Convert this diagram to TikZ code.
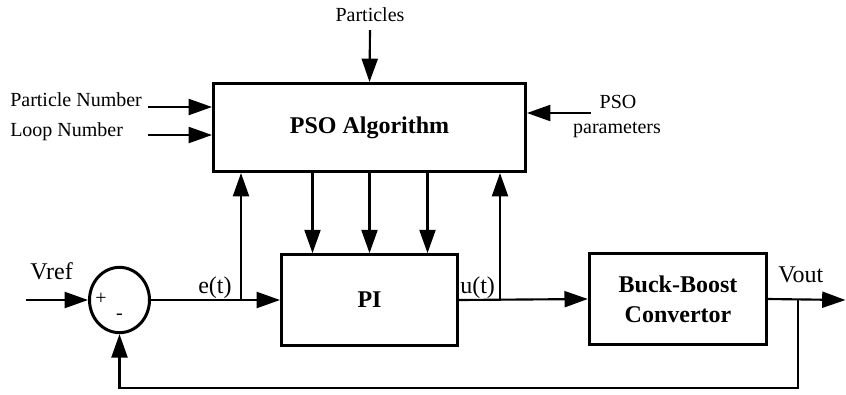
\documentclass[tikz,border=0pt]{standalone}
\usepackage{fontspec}
\setmainfont{Liberation Serif}
\usetikzlibrary{arrows.meta}
\usetikzlibrary{positioning, shapes.geometric}

\tikzset{
  blk/.style={draw,rectangle,line width=2.25pt,font=\fontsize{18}{22.5}\selectfont\bfseries,align=center},
  toplbl/.style={font=\fontsize{15}{17}\selectfont,inner sep=0pt},
  botlbl/.style={font=\fontsize{18}{20}\selectfont,inner sep=0pt},
  wire/.style={line width=1.6pt},
  sig/.style={line width=1.6pt,-{Triangle[length=17.5pt,width=12pt]}},
}

\begin{document}
\begin{tikzpicture}[x=0.75pt,y=-0.75pt]
\useasboundingbox (0,0) rectangle (846,394);

% blocks
\node[blk,minimum width=234pt,minimum height=66pt] (pso) at (369.5,127.5) {PSO Algorithm};
\node[blk,minimum width=132pt,minimum height=68pt] (pi) at (369.5,300) {PI};
\node[blk,minimum width=133pt,minimum height=68pt] (conv) at (678,299) {Buck-Boost\\Convertor};
\node[draw,ellipse,line width=2.25pt,minimum width=45pt,minimum height=49pt,inner sep=0pt] (sum) at (119.5,300) {};
\node[toplbl] (plus) at (101,299) {+};
\node[toplbl] (minus) at (119.5,317) {-};

% inputs of the PSO block
\node[toplbl,anchor=base] (parts) at (370,21.5) {Particles};
\node[toplbl,anchor=base west] (pnum) at (10,106) {Particle Number};
\node[toplbl,anchor=base west] (lnum) at (10,136) {Loop Number};
\node[toplbl,anchor=base] (pso1) at (618,108.5) {PSO};
\node[toplbl,anchor=base] (pso2) at (617,133) {parameters};
\coordinate (pa) at (370,30);
\coordinate (pb) at (148,107);
\coordinate (pc) at (148,135);
\coordinate (pd) at (591,113);
\draw[sig] (pa) -- (pso.north);
\draw[sig] (pb) -- (pb -| pso.west);
\draw[sig] (pc) -- (pc -| pso.west);
\draw[sig] (pd) -- (pd -| pso.east);

% gains passed down to PI
\foreach \dx in {-57,0,58}
  \draw[sig] ([xshift=\dx*0.75pt]pso.south) -- ([xshift=\dx*0.75pt]pi.north);

% main loop
\node[botlbl,anchor=base west] (vref) at (30,279) {Vref};
\node[botlbl,anchor=base west] (et) at (198,293) {e(t)};
\node[botlbl,anchor=base west] (ut) at (460,293) {u(t)};
\node[botlbl,anchor=base west] (vout) at (778,282) {Vout};
\coordinate (vin) at (26,300);
\coordinate (eb) at (241,300);
\coordinate (ub) at (500,300);
\coordinate (vo) at (798,300);
\coordinate (vend) at (845.5,300);
\draw[sig] (vin) -- (sum.west);
\draw[sig] (sum.east) -- (pi.west);
\draw[sig] (pi.east) -- (conv.west);
\draw[sig] (conv.east) -- (vend);
\draw[sig] (eb) -- (eb |- pso.south);
\draw[sig] (ub) -- (ub |- pso.south);
\draw[sig] (vo) -- ++(0,88) -| (sum.south);

\end{tikzpicture}
\end{document}
